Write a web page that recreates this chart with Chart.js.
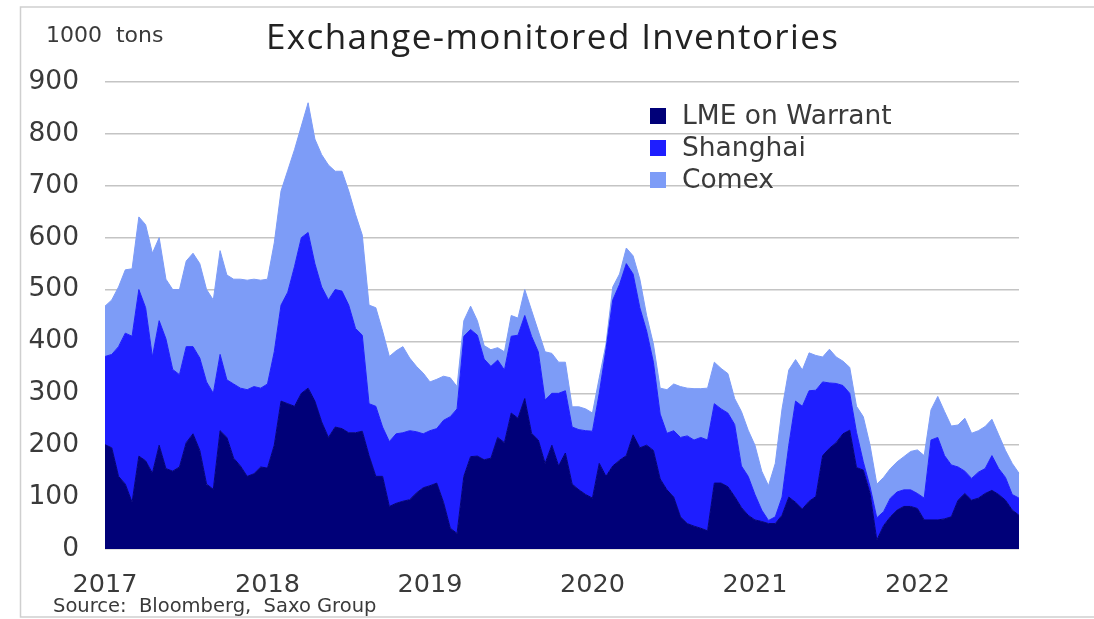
<!DOCTYPE html>
<html>
<head>
<meta charset="utf-8">
<title>Exchange-monitored Inventories</title>
<script src="https://cdn.jsdelivr.net/npm/chart.js@4.4.0/dist/chart.umd.min.js"></script>
<style>
  html, body { margin: 0; padding: 0; background: #fff; }
  #wrap { width: 1094px; height: 619px; position: relative; }
</style>
</head>
<body>
<div id="wrap"><canvas id="invChart" width="1094" height="619"></canvas></div>
<script>
// semi-monthly observations, Jan 2017 .. Aug 2022 (1000 tons)
const startYear = 2017;
const pointCount = 136;
const yearTicks = ['2017', '2018', '2019', '2020', '2021', '2022'];
const yTicks = [0, 100, 200, 300, 400, 500, 600, 700, 800, 900];
const seriesNames = ['LME on Warrant', 'Shanghai', 'Comex'];
const seriesColors = ['#000078', '#1e1eff', '#7d9cf7'];

const lmeOnWarrant = [
  201, 195, 140, 125, 90, 179, 170, 146, 200, 155, 150, 158, 205, 222, 190, 125, 115, 228, 215, 175,
  160, 140, 145, 158, 156, 200, 285, 280, 275, 300, 310, 285, 245, 215, 235, 232, 224, 224, 227, 180,
  140, 140, 82, 88, 92, 95, 108, 118, 122, 127, 90, 40, 30, 140, 178, 179, 172, 175, 215, 205,
  262, 252, 290, 223, 210, 165, 200, 160, 185, 125, 114, 105, 98, 165, 140, 160, 171, 180, 220, 195,
  200, 190, 135, 114, 100, 62, 49, 44, 40, 35, 127, 127, 120, 101, 80, 65, 56, 53, 49, 49,
  65, 100, 90, 77, 92, 101, 180, 194, 205, 222, 229, 157, 152, 107, 17, 45, 62, 75, 82, 82,
  78, 56, 56, 56, 58, 62, 94, 107, 94, 98, 107, 113, 105, 94, 75, 65
];
const shanghai = [
  170, 180, 250, 291, 320, 321, 295, 224, 240, 250, 196, 178, 185, 168, 178, 197, 185, 147, 111, 143,
  150, 167, 168, 152, 162, 180, 185, 215, 270, 300, 300, 265, 260, 265, 265, 265, 246, 201, 185, 100,
  135, 95, 125, 134, 132, 133, 118, 104, 106, 105, 158, 215, 240, 270, 245, 233, 194, 177, 149, 140,
  148, 160, 160, 187, 170, 122, 100, 140, 120, 110, 116, 123, 129, 135, 245, 320, 339, 370, 310, 270,
  220, 170, 125, 109, 128, 153, 169, 166, 175, 175, 153, 143, 142, 139, 80, 75, 49, 22, 6, 13,
  35, 100, 195, 198, 213, 205, 142, 126, 114, 93, 71, 68, 16, 13, 43, 27, 36, 35, 32, 32,
  29, 42, 154, 159, 122, 100, 64, 43, 42, 50, 48, 67, 50, 44, 30, 33
];
const comex = [
  97, 105, 115, 122, 130, 140, 160, 200, 160, 115, 154, 164, 165, 180, 182, 178, 180, 200, 202, 202,
  210, 211, 207, 208, 202, 210, 220, 235, 225, 215, 250, 240, 255, 260, 228, 231, 220, 220, 193, 190,
  190, 185, 164, 160, 166, 140, 126, 117, 94, 95, 85, 75, 43, 30, 45, 28, 26, 32, 24, 35,
  40, 33, 50, 50, 40, 93, 77, 60, 55, 39, 44, 42, 35, 30, 10, 25, 20, 30, 35, 55,
  30, 35, 50, 84, 90, 98, 92, 99, 94, 100, 80, 78, 76, 50, 105, 89, 95, 75, 67, 103,
  170, 145, 80, 70, 73, 67, 48, 65, 51, 47, 50, 50, 87, 80, 65, 66, 57, 58, 64, 74,
  84, 82, 58, 79, 85, 75, 81, 102, 87, 80, 81, 70, 65, 52, 60, 48
];

// category labels: 1st and 16th of each month
const labels = [];
for (let i = 0; i < pointCount; i++) {
  const y = startYear + Math.floor(i / 24);
  const m = Math.floor((i % 24) / 2) + 1;
  labels.push(`${y}-${String(m).padStart(2, '0')}-${i % 2 === 0 ? '01' : '16'}`);
}

const seriesData = [lmeOnWarrant, shanghai, comex];

const textColor = '#3a3a3a';

const decorPlugin = {
  id: 'decor',
  afterDraw(chart) {
    const ctx = chart.ctx;
    ctx.save();

    // outer frame
    ctx.strokeStyle = '#cfcfcf';
    ctx.lineWidth = 1.5;
    ctx.beginPath();
    ctx.moveTo(1094, 7);
    ctx.lineTo(20.5, 7);
    ctx.lineTo(20.5, 617);
    ctx.lineTo(1094, 617);
    ctx.stroke();

    // unit label
    ctx.fillStyle = textColor;
    ctx.textBaseline = 'alphabetic';
    ctx.textAlign = 'left';
    ctx.font = '22px "DejaVu Sans"';
    ctx.fillText('1000  tons', 46, 42);

    // title
    ctx.fillStyle = '#222';
    ctx.font = '35px "Open Sans"';
    ctx.letterSpacing = '1.4px';
    ctx.fillText('Exchange-monitored Inventories', 266, 49);
    ctx.letterSpacing = '0px';

    // legend
    ctx.textBaseline = 'middle';
    ctx.font = '26.5px "DejaVu Sans"';
    chart.data.datasets.forEach((ds, i) => {
      const cy = 116 + i * 32;
      ctx.fillStyle = ds.backgroundColor;
      ctx.fillRect(650, cy - 8, 16, 16);
      ctx.fillStyle = textColor;
      ctx.fillText(ds.label, 682, cy + 1);
    });

    // source
    ctx.textBaseline = 'alphabetic';
    ctx.font = '19.5px "DejaVu Sans"';
    ctx.fillStyle = textColor;
    ctx.fillText('Source:  Bloomberg,  Saxo Group', 53, 612);

    ctx.restore();
  }
};

new Chart(document.getElementById('invChart'), {
  type: 'line',
  data: {
    labels: labels,
    datasets: seriesNames.map((name, i) => ({
      label: name,
      data: seriesData[i],
      backgroundColor: seriesColors[i],
      borderColor: seriesColors[i],
      borderWidth: 1,
      pointRadius: 0,
      tension: 0,
      fill: i === 0 ? 'origin' : '-1',
    })),
  },
  options: {
    responsive: false,
    animation: false,
    events: [],
    layout: { padding: { left: 20, right: 75, top: 82, bottom: 0 } },
    plugins: {
      legend: { display: false },
      tooltip: { enabled: false },
      filler: { propagate: false },
    },
    scales: {
      x: {
        type: 'category',
        offset: false,
        grid: { display: false, drawTicks: false },
        border: { display: false },
        afterFit: (scale) => { scale.height = 70; },
        ticks: {
          autoSkip: false,
          maxRotation: 0,
          padding: 21,
          color: textColor,
          font: { family: 'DejaVu Sans', size: 25.5 },
          callback: function (value, index) {
            const lab = this.getLabelForValue(value);
            if (lab.endsWith('-01-01')) {
              const yr = lab.slice(0, 4);
              return yearTicks.includes(yr) ? yr : '';
            }
            return '';
          },
        },
      },
      y: {
        stacked: true,
        min: 0,
        max: 900,
        afterFit: (scale) => { scale.width = 85; },
        afterBuildTicks: (scale) => { scale.ticks = yTicks.map(v => ({ value: v })); },
        grid: { color: '#c4c4c4', lineWidth: 1.5, drawTicks: false },
        border: { display: false },
        ticks: {
          padding: 26,
          color: textColor,
          font: { family: 'DejaVu Sans', size: 26.5 },
        },
      },
    },
  },
  plugins: [decorPlugin],
});
</script>
</body>
</html>
